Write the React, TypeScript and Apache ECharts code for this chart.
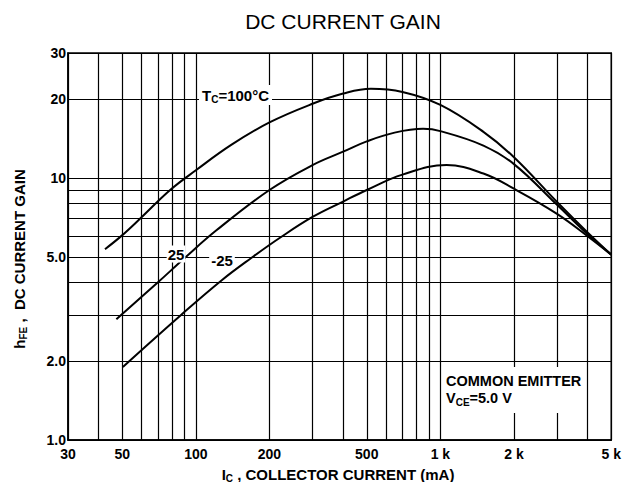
import React, { useEffect, useRef } from "react";
import * as echarts from "echarts";

// Axis grid / label values (real units)
const xGridValues = [30, 40, 50, 60, 70, 80, 90, 100, 200, 300, 400, 500, 600, 700, 800, 900, 1000, 2000, 3000, 4000, 5000];
const xLabelValues = [30, 50, 100, 200, 500, 1000, 2000, 5000];
const yGridValues = [1, 2, 3, 4, 5, 6, 7, 8, 9, 10, 20, 30];
const yLabelValues = [1, 2, 5, 10, 20, 30];

// Tc = 100 °C
const ic100 = [42.5, 49.5, 59.2, 78.5, 100, 140, 200, 300, 400, 520, 700, 1000, 1500, 2000, 3000, 4000, 5000];
const hfe100 = [5.35, 6.0, 7.0, 9.0, 10.7, 13.4, 16.3, 19.2, 21.0, 21.9, 21.3, 19.0, 15.0, 12.0, 8.1, 6.2, 5.1];

// Tc = 25 °C
const ic25 = [47.3, 70, 90, 121, 200, 300, 400, 500, 650, 850, 1000, 1500, 2000, 3000, 4000, 5000];
const hfe25 = [2.89, 4.0, 4.95, 6.3, 9.0, 11.2, 12.6, 13.8, 14.9, 15.4, 15.1, 13.3, 11.3, 7.9, 6.1, 5.1];

// Tc = -25 °C
const icM25 = [50.3, 87, 128, 169, 220, 300, 400, 500, 700, 1060, 1500, 2000, 3000, 4000, 5000];
const hfeM25 = [1.9, 3.0, 4.08, 4.96, 5.9, 7.1, 8.13, 9.0, 10.3, 11.2, 10.4, 9.1, 7.3, 6.0, 5.1];

const L = (v: number) => Math.log10(v);
const FONT = '"Liberation Sans", Arial, Helvetica, sans-serif';

export default function App() {
  const ref = useRef<HTMLDivElement>(null);

  useEffect(() => {
    document.body.style.margin = "0";
    const chart = echarts.init(ref.current!, null, { renderer: "svg" });

    const toPairs = (xs: number[], ys: number[]) => xs.map((x, i) => [L(x), L(ys[i])]);
    const fmtX = (v: number) => {
      const n = Math.round(Math.pow(10, v));
      return n >= 1000 ? `${n / 1000} k` : `${n}`;
    };
    const fmtY = (v: number) => {
      const n = Math.round(Math.pow(10, v));
      return n < 10 ? n.toFixed(1) : `${n}`;
    };

    const lineSeries = (name: string, data: number[][]) => ({
      name,
      type: "line",
      data,
      smooth: 0.4,
      symbol: "none",
      showSymbol: false,
      lineStyle: { color: "#000", width: 2 },
      z: 3,
    });

    const bold = { fontFamily: FONT, fontWeight: "bold", fill: "#000" };
    const main = (size: number) => ({ fontSize: size, fontFamily: FONT, fontWeight: "bold", fill: "#000", lineHeight: 18, verticalAlign: "middle" });
    const sub = { fontSize: 10, fontFamily: FONT, fontWeight: "bold", fill: "#000", verticalAlign: "bottom" };

    const option: any = {
      animation: false,
      backgroundColor: "#fff",
      grid: { left: 68, top: 53, width: 543.5, height: 387, show: true, borderColor: "#000", borderWidth: 1.5, backgroundColor: "transparent" },
      xAxis: {
        type: "value",
        min: L(30),
        max: L(5000),
        axisLine: { show: true, onZero: false, lineStyle: { color: "#000", width: 1.5 } },
        axisTick: { show: false, customValues: xGridValues.map(L) },
        axisLabel: {
          customValues: xLabelValues.map(L),
          formatter: fmtX,
          fontSize: 14,
          fontWeight: "bold",
          fontFamily: FONT,
          color: "#000",
          margin: 7,
        },
        splitLine: { show: true, lineStyle: { color: "#000", width: 1.2 } },
      },
      yAxis: {
        type: "value",
        min: 0,
        max: L(30),
        axisLine: { show: true, onZero: false, lineStyle: { color: "#000", width: 1.5 } },
        axisTick: { show: false, customValues: yGridValues.map(L) },
        axisLabel: {
          customValues: yLabelValues.map(L),
          formatter: fmtY,
          fontSize: 14,
          fontWeight: "bold",
          fontFamily: FONT,
          color: "#000",
          margin: 2,
        },
        splitLine: { show: true, lineStyle: { color: "#000", width: 1.2 } },
      },
      series: [
        lineSeries("100", toPairs(ic100, hfe100)),
        lineSeries("25", toPairs(ic25, hfe25)),
        lineSeries("-25", toPairs(icM25, hfeM25)),
      ],
      graphic: [
        {
          type: "text",
          x: 343,
          y: 21,
          z: 100,
          style: { text: "DC CURRENT GAIN", fontSize: 21, fontFamily: FONT, fontWeight: "normal", fill: "#000", align: "center", verticalAlign: "middle" },
        },
        {
          type: "text",
          x: 19,
          y: 259,
          rotation: Math.PI / 2,
          z: 100,
          style: {
            text: "{m|h}{s|FE}{m| ,  DC CURRENT GAIN}",
            align: "center",
            verticalAlign: "middle",
            ...bold,
            fontSize: 15,
            rich: { m: main(15), s: sub },
          },
        },
        {
          type: "text",
          x: 338,
          y: 474,
          z: 100,
          style: {
            text: "{m|I}{s|C}{m| , COLLECTOR CURRENT (mA)}",
            align: "center",
            verticalAlign: "middle",
            ...bold,
            fontSize: 15,
            rich: { m: main(15), s: sub },
          },
        },
        {
          type: "text",
          x: 199,
          y: 95,
          z: 100,
          style: {
            text: "{m|T}{s|C}{m|=100°C}",
            align: "left",
            verticalAlign: "middle",
            ...bold,
            fontSize: 15,
            backgroundColor: "#fff",
            padding: [1, 3, 1, 3],
            rich: { m: main(15), s: sub },
          },
        },
        {
          type: "text",
          x: 176,
          y: 254,
          z: 100,
          style: { text: "25", align: "center", verticalAlign: "middle", ...bold, fontSize: 15, backgroundColor: "#fff", padding: [1, 1, 1, 1] },
        },
        {
          type: "text",
          x: 222,
          y: 260,
          z: 100,
          style: { text: "-25", align: "center", verticalAlign: "middle", ...bold, fontSize: 15, backgroundColor: "#fff", padding: [1, 2, 1, 2] },
        },
        {
          type: "rect",
          z: 99,
          shape: { x: 443, y: 367, width: 142, height: 46 },
          style: { fill: "#fff" },
        },
        {
          type: "text",
          x: 446,
          y: 381,
          z: 100,
          style: { text: "COMMON EMITTER", align: "left", verticalAlign: "middle", ...bold, fontSize: 14.5 },
        },
        {
          type: "text",
          x: 446,
          y: 398,
          z: 100,
          style: {
            text: "{m|V}{s|CE}{m|=5.0 V}",
            align: "left",
            verticalAlign: "middle",
            ...bold,
            fontSize: 14.5,
            rich: { m: main(14.5), s: sub },
          },
        },
      ],
    };

    chart.setOption(option);
    return () => chart.dispose();
  }, []);

  return <div ref={ref} style={{ position: "fixed", left: 0, top: 0, width: 624, height: 482 }} />;
}
